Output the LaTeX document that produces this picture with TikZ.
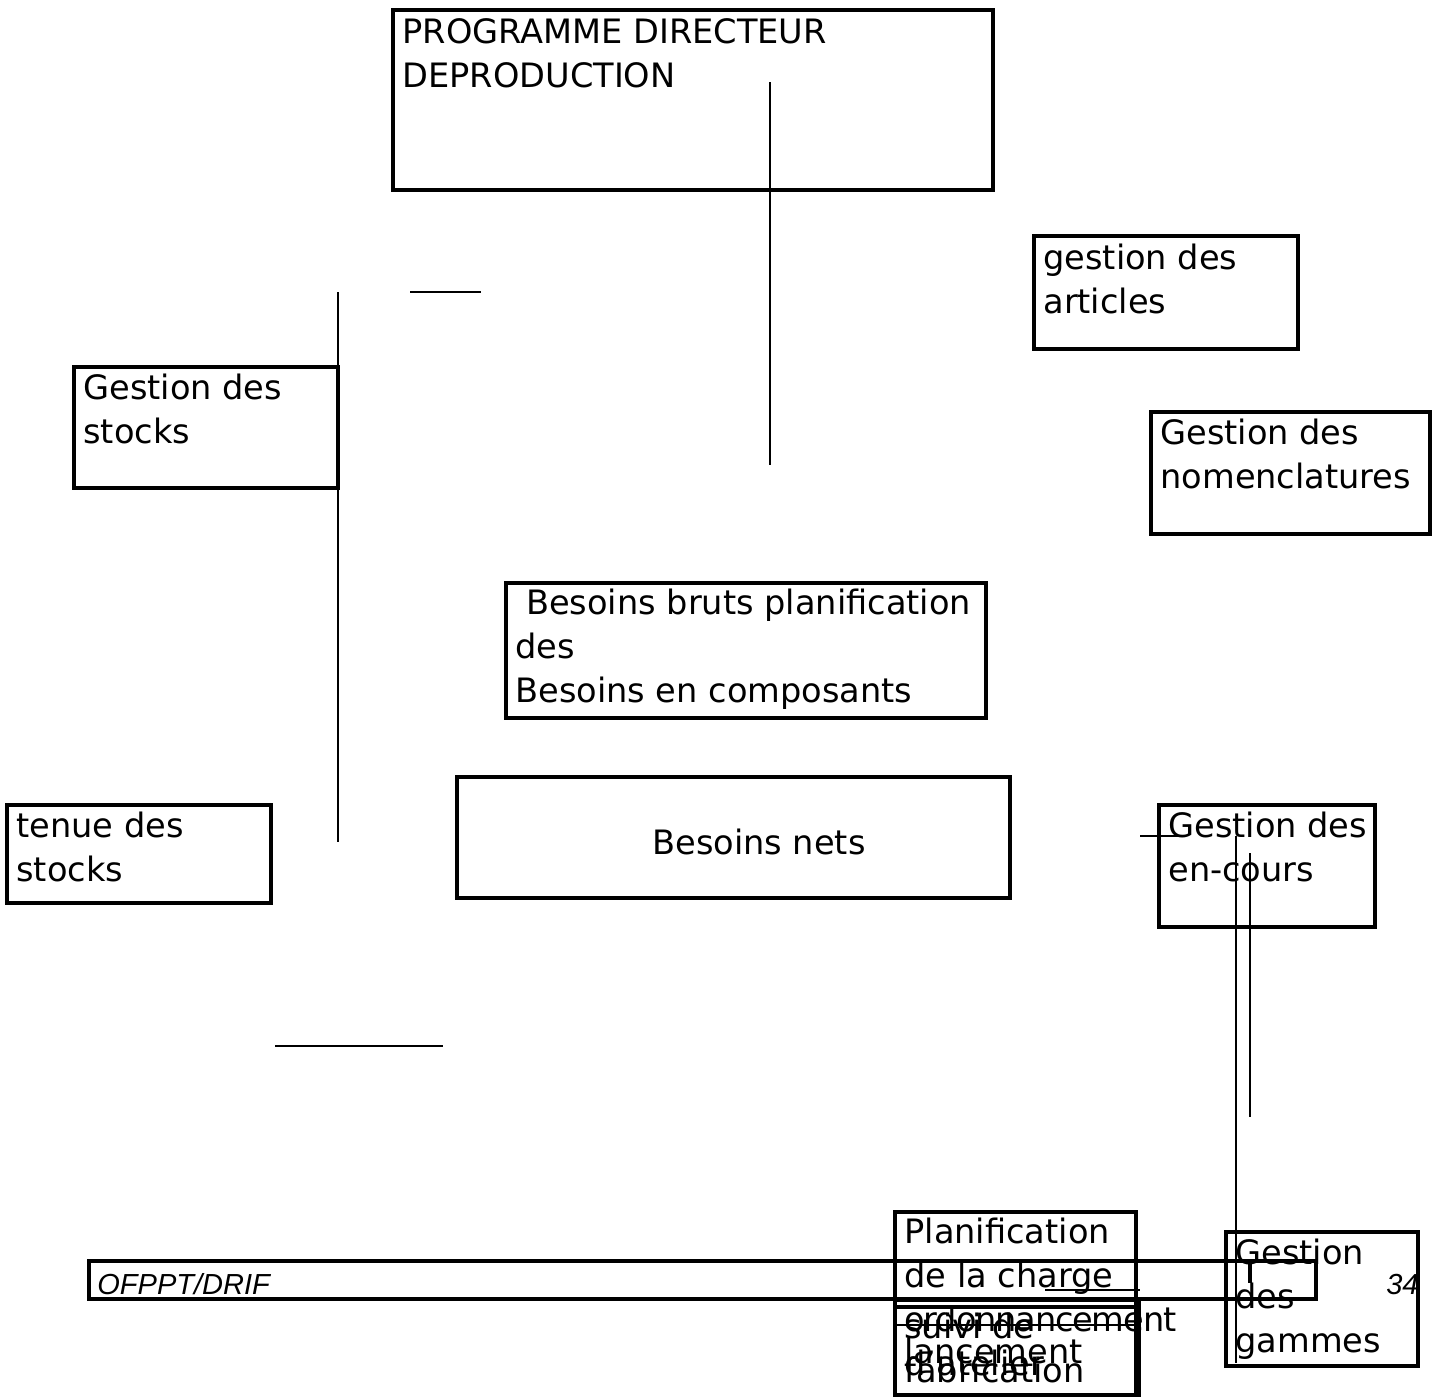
\documentclass[tikz,border=0pt]{standalone}
\usepackage{fontspec}
\setmainfont{DejaVu Sans}
\newfontfamily\footfont{Liberation Sans}
\tikzset{
    box/.style={line width=1.7pt},
    wire/.style={line width=0.8pt},
    lbl/.style={anchor=north west,inner sep=0pt,align=left,
        font=\fontsize{16.8}{22}\selectfont,execute at begin node=\strut},
    foot/.style={inner sep=0pt,font=\footfont\itshape\fontsize{14.5}{17}\selectfont},
}
\begin{document}
\begin{tikzpicture}[x=0.5pt,y=-0.5pt]
    \useasboundingbox (0,0) rectangle (1441,1398);

    % boxes
    \draw[box] (393,10) rectangle (993,190);
    \draw[box] (1034,236) rectangle (1298,349);
    \draw[box] (74,367) rectangle (338,488);
    \draw[box] (1151,412) rectangle (1430,534);
    \draw[box] (506,583) rectangle (986,718);
    \draw[box] (457,777) rectangle (1010,898);
    \draw[box] (7,805) rectangle (271,903);
    \draw[box] (1159,805) rectangle (1375,927);
    \draw[box] (895,1212) rectangle (1136,1307);
    \draw[box] (895,1300) rectangle (1139,1395);
    \draw[box] (895,1307) rectangle (1136,1395);
    \draw[box] (1226,1232) rectangle (1418,1366);

    % footer strip
    \draw[box] (89,1261) rectangle (1316,1299);
    \draw[box] (1250,1261) -- (1250,1283);
    \node[foot,anchor=base west] (ofppt) at (97,1294) {OFPPT/DRIF};
    \node[foot,anchor=base east] (page) at (1419,1294) {34};

    % labels
    \node[lbl] (pdp) at (402,18) {PROGRAMME DIRECTEUR\\DEPRODUCTION};
    \node[lbl] (articles) at (1043,244) {gestion des\\articles};
    \node[lbl] (stocks) at (83,374) {Gestion des\\stocks};
    \node[lbl] (nomencl) at (1160,419) {Gestion des\\nomenclatures};
    \node[lbl] (bruts) at (515,589) {\ Besoins bruts planification\\des\\Besoins en composants};
    \node[lbl] (nets) at (652,823) {Besoins nets};
    \node[lbl] (tenue) at (16,812) {tenue des\\stocks};
    \node[lbl] (encours) at (1168,812) {Gestion des\\en-cours};
    \node[lbl] (charge) at (904,1218) {Planification\\de la charge};
    \node[lbl] (gammes) at (1235,1239) {Gestion\\des\\gammes};
    \node[lbl] (ordo) at (904,1306) {{\addfontfeature{LetterSpace=-3.5}ordonnancement}\\d'atelier};
    \node[lbl] (suivi) at (904,1313) {suivi de\\fabrication};
    \node[lbl] (lance) at (904,1332) {lancement};

    % loose strokes
    \coordinate (a1) at (770,82);   \coordinate (a2) at (770,465);
    \coordinate (b1) at (410,292);  \coordinate (b2) at (481,292);
    \coordinate (c1) at (338,292);  \coordinate (c2) at (338,842);
    \coordinate (d1) at (275,1046); \coordinate (d2) at (443,1046);
    \coordinate (e1) at (1140,836); \coordinate (e2) at (1185,836);
    \coordinate (f1) at (1236,836); \coordinate (f2) at (1236,1363);
    \coordinate (g1) at (1250,853); \coordinate (g2) at (1250,1117);
    \coordinate (h1) at (1045,1290); \coordinate (h2) at (1140,1290);
    \coordinate (k1) at (893,1325); \coordinate (k2) at (1136,1325);
    \foreach \p/\q in {a1/a2,b1/b2,c1/c2,d1/d2,e1/e2,f1/f2,g1/g2,h1/h2}
        \draw[wire] (\p) -- (\q);
    \draw[line width=1pt] (k1) -- (k2);
\end{tikzpicture}
\end{document}
